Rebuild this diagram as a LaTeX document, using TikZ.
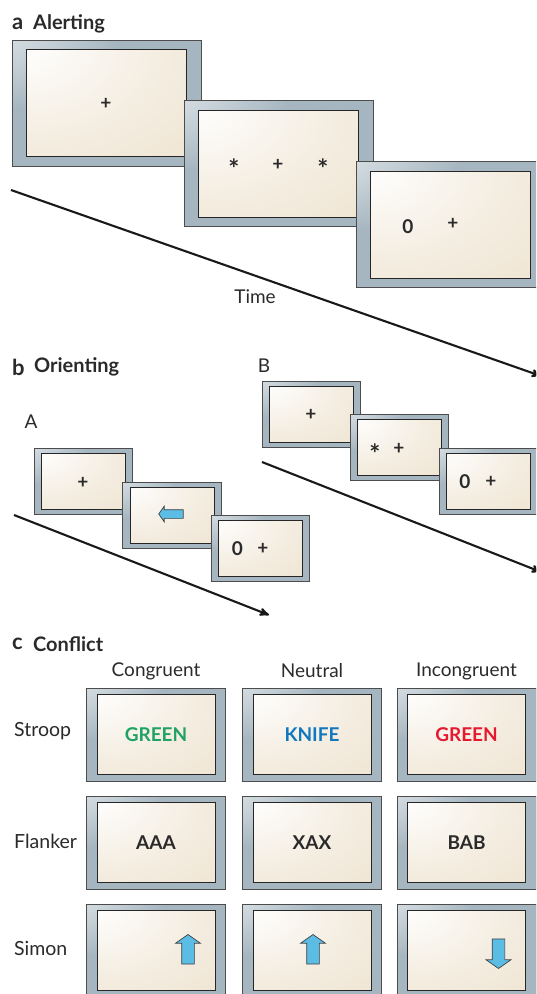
\documentclass[tikz,border=0pt]{standalone}
\usepackage{fontspec}
\setmainfont{Lato}
\usetikzlibrary{positioning}
\usetikzlibrary{arrows}
\usetikzlibrary{shapes.arrows}

\definecolor{framegrey}{HTML}{A6B6C0}
\definecolor{creamdark}{HTML}{ECE0CB}
\definecolor{inkgrey}{HTML}{2A2A2A}
\definecolor{cueblue}{HTML}{5BBCE4}
\definecolor{wordgreen}{HTML}{1FA263}
\definecolor{wordblue}{HTML}{0F78BE}
\definecolor{wordred}{HTML}{E5192F}

\pgfdeclareradialshading{frameglow}{\pgfpoint{-42bp}{42bp}}{%
  color(0bp)=(white); color(7bp)=(white); color(18bp)=(framegrey!50!white);
  color(36bp)=(framegrey); color(160bp)=(framegrey)}
\pgfdeclareradialshading{panelglow}{\pgfpoint{-30bp}{30bp}}{%
  color(0bp)=(white); color(10bp)=(creamdark!12!white);
  color(40bp)=(creamdark!60!white); color(80bp)=(creamdark); color(160bp)=(creamdark)}

\tikzset{
  frame/.style={draw=black!70, line width=0.8pt, shading=frameglow, inner sep=0pt},
  panel/.style={draw=black!85, line width=0.9pt, shading=panelglow, inner sep=0pt},
  bigframe/.style={minimum width=189pt, minimum height=126pt},
  bigpanel/.style={minimum width=160pt, minimum height=107pt},
  smallframe/.style={minimum width=98.5pt, minimum height=66pt},
  smallpanel/.style={minimum width=84pt, minimum height=56pt},
  wideframe/.style={minimum width=139pt, minimum height=93pt},
  widepanel/.style={minimum width=118pt, minimum height=80pt},
  sectionlabel/.style={font=\fontsize{20}{22}\selectfont\bfseries, text=inkgrey, inner sep=0pt, anchor=west},
  headlabel/.style={font=\fontsize{19}{22}\selectfont, text=inkgrey, inner sep=0pt},
  sidelabel/.style={font=\fontsize{19.5}{22}\selectfont, text=inkgrey, inner sep=0pt, anchor=west},
  cuemark/.style={font=\fontsize{19}{22}\selectfont\bfseries, text=inkgrey, inner sep=0pt},
  starmark/.style={font=\fontsize{26}{28}\selectfont\bfseries, text=inkgrey, inner sep=0pt},
  wordmark/.style={font=\fontsize{19}{22}\selectfont\bfseries, inner sep=0pt},
  timearrow/.style={-stealth', line width=2.1pt, draw=black!90},
  cuearrow/.style={single arrow, draw=black!75, fill=cueblue, line width=0.7pt,
    single arrow tip angle=110},
  tallcue/.style={cuearrow, inner sep=6pt, minimum height=29.5pt, single arrow head extend=6pt},
}

% one monitor: name, centre x, centre y, size prefix
\newcommand{\monitor}[4]{
  \node[frame, #4frame] (#1) at (#2, #3) {};
  \node[panel, #4panel] (#1in) at (#1.center) {};
}

\begin{document}
\begin{tikzpicture}[x=1pt,y=-1pt]

  \clip (0,0) rectangle (536,994);

  % a: alerting
  \node[sectionlabel] (alertletter) at (12, 24) {\fontsize{22}{24}\selectfont a};
  \node[sectionlabel] (alerttitle) at (33, 24) {Alerting};

  \monitor{alertone}{106.5}{103}{big}
  \node[cuemark] (alertonefix) at (106, 104) {+};

  \monitor{alerttwo}{278.5}{163.5}{big}
  \node[starmark] (alerttwostarl) at (234, 169) {*};
  \node[cuemark] (alerttwofix) at (278, 164.5) {+};
  \node[starmark] (alerttwostarr) at (323, 169) {*};

  \monitor{alertthree}{450.5}{224.5}{big}
  \node[cuemark] (alertthreezero) at (408, 227) {0};
  \node[cuemark] (alertthreefix) at (453, 224) {+};

  % time arrow of part a
  \coordinate (alertstart) at (11, 190);
  \coordinate (alertend) at (541, 376);
  \draw[timearrow] (alertstart) -- (alertend);
  \node[headlabel] (timelabel) at (255, 297) {Time};

  % b: orienting
  \node[sectionlabel] (orientletter) at (12, 367) {\fontsize{22}{24}\selectfont b};
  \node[sectionlabel] (orienttitle) at (34, 367) {Orienting};
  \node[headlabel] (orientb) at (264, 366) {B};
  \node[headlabel] (orienta) at (31, 422) {A};

  % panel A
  \monitor{lowone}{83.5}{481}{small}
  \node[cuemark] (lowonefix) at (83, 483) {+};
  \monitor{lowtwo}{172}{515}{small}
  \node[cuearrow, inner sep=4pt, shape border rotate=180, minimum height=24.5pt,
    single arrow head extend=3.5pt] (lowtwocue) at (172.5, 514) {};
  \monitor{lowthree}{260.5}{548}{small}
  \node[cuemark] (lowthreezero) at (237.5, 549) {0};
  \node[cuemark] (lowthreefix) at (263, 549) {+};

  \coordinate (lowstart) at (14, 515);
  \coordinate (lowend) at (269, 615);
  \draw[timearrow] (lowstart) -- (lowend);

  % panel B
  \monitor{highone}{311.5}{414}{small}
  \node[cuemark] (highonefix) at (311, 415) {+};
  \monitor{hightwo}{399.5}{447.5}{small}
  \node[starmark] (hightwostar) at (375, 454) {*};
  \node[cuemark] (hightwofix) at (399, 449) {+};
  \monitor{highthree}{488.5}{481}{small}
  \node[cuemark] (highthreezero) at (465, 482) {0};
  \node[cuemark] (highthreefix) at (491, 482) {+};

  \coordinate (highstart) at (262, 462);
  \coordinate (highend) at (541, 572);
  \draw[timearrow] (highstart) -- (highend);

  % c: conflict
  \node[sectionlabel] (conflictletter) at (12, 644) {\fontsize{22}{24}\selectfont c};
  \node[sectionlabel] (conflicttitle) at (33, 644) {Conflict};

  \node[headlabel] (headcong) at (156, 671) {Congruent};
  \node[headlabel] (headneut) at (312, 670.5) {Neutral};
  \node[headlabel] (headincg) at (466.5, 671) {Incongruent};
  \node[sidelabel] (sidestroop) at (14, 731) {Stroop};
  \node[sidelabel] (sideflanker) at (14, 841) {Flanker};
  \node[sidelabel] (sidesimon) at (14, 948) {Simon};

  % grid of monitors
  \foreach \rowname/\cy in {stroop/734.5, flanker/842.5, simon/950.5}
    \foreach \colname/\cx in {cong/156, neut/312, incg/466.5}
      {\monitor{\rowname\colname}{\cx}{\cy}{wide}}

  \node[wordmark, text=wordgreen] (wordcong) at (stroopcongin.center) {GREEN};
  \node[wordmark, text=wordblue] (wordneut) at (stroopneutin.center) {KNIFE};
  \node[wordmark, text=wordred] (wordincg) at (stroopincgin.center) {GREEN};

  \node[wordmark, text=inkgrey] (flankcong) at (flankercongin.center) {AAA};
  \node[wordmark, text=inkgrey] (flankneut) at (flankerneutin.center) {XAX};
  \node[wordmark, text=inkgrey] (flankincg) at (flankerincgin.center) {BAB};

  \node[tallcue, shape border rotate=90] (simoncue) at (188, 951.5) {};
  \node[tallcue, shape border rotate=90] (simonneutcue) at (313, 951.5) {};
  \node[tallcue, shape border rotate=270] (simondown) at (498.5, 951.5) {};

\end{tikzpicture}
\end{document}
